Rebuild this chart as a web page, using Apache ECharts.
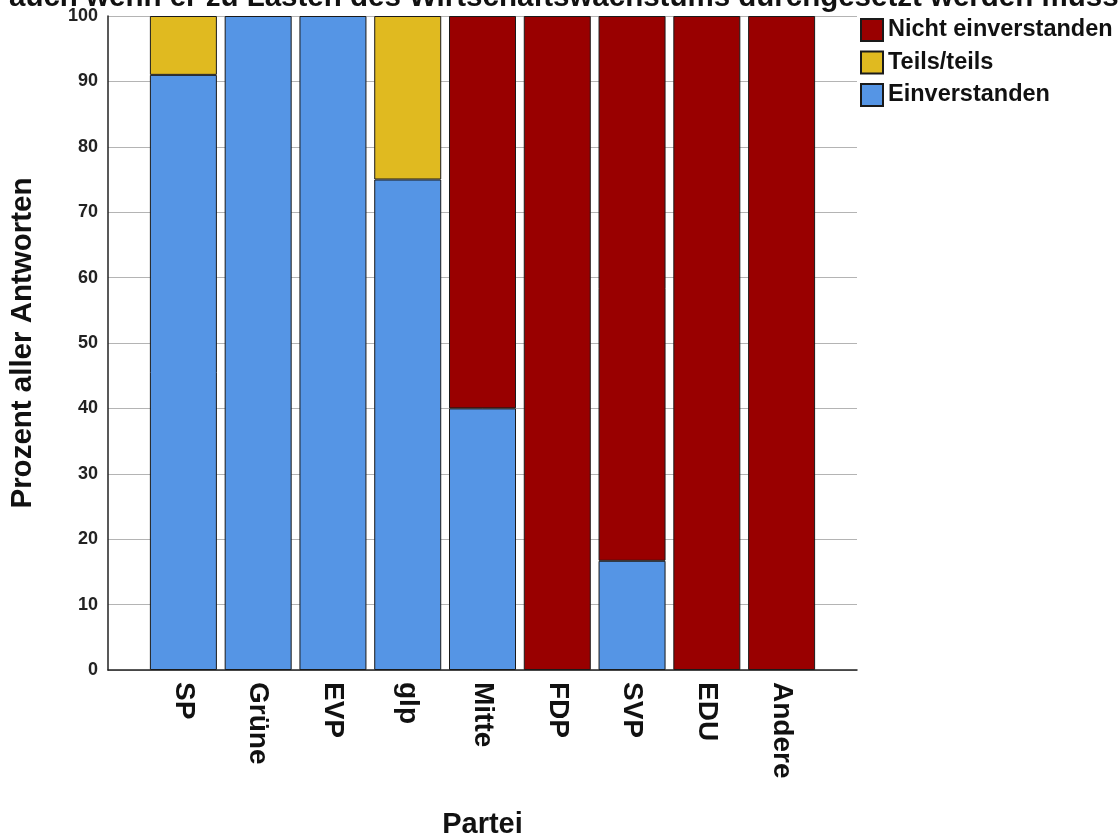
<!DOCTYPE html>
<html>
<head>
<meta charset="utf-8">
<script src="https://cdn.jsdelivr.net/npm/echarts@6/dist/echarts.min.js"></script>
<style>
html,body{margin:0;padding:0;background:#fff;}
#c{width:1119px;height:836px;}
</style>
</head>
<body>
<div id="c"></div>
<script>
const categories = ['SP', 'Grüne', 'EVP', 'glp', 'Mitte', 'FDP', 'SVP', 'EDU', 'Andere'];
const einverstanden = [91, 100, 100, 75, 40, 0, 16.7, 0, 0];
const teilsTeils = [9, 0, 0, 25, 0, 0, 0, 0, 0];
const nichtEinverstanden = [0, 0, 0, 0, 60, 100, 83.3, 100, 100];
const yTicks = [0, 10, 20, 30, 40, 50, 60, 70, 80, 90, 100];

const FONT = '"Liberation Sans", Arial, sans-serif';
const chart = echarts.init(document.getElementById('c'), null, {renderer: 'canvas'});

function nz(arr) { return arr.map(v => v === 0 ? '-' : v); }

const barStyle = (color) => ({color: color, borderColor: '#1a1a1a', borderWidth: 1});

chart.setOption({
  animation: false,
  title: {
    text: 'auch wenn er zu Lasten des Wirtschaftswachstums durchgesetzt werden muss',
    left: 4, top: -22,
    textStyle: {fontFamily: FONT, fontSize: 29.5, fontWeight: 'bold', color: '#111'}
  },
  legend: {
    data: ['Nicht einverstanden', 'Teils/teils', 'Einverstanden'],
    orient: 'vertical', left: 855, top: 13,
    itemWidth: 22, itemHeight: 22, itemGap: 8.5,
    icon: 'rect',
    textStyle: {fontFamily: FONT, fontSize: 23.5, fontWeight: 'bold', color: '#111', padding: [0, 0, 0, 0]}
  },
  grid: [
    {left: 108, right: 262, top: 16, bottom: 166, containLabel: false, outerBoundsMode: 'none'},
    {left: 146, width: 673, top: 16, bottom: 166, containLabel: false, outerBoundsMode: 'none'}
  ],
  xAxis: [
    {
      gridIndex: 0, type: 'value', min: 0, max: 1,
      axisLine: {show: true, onZero: false, lineStyle: {color: '#222', width: 1.5}},
      axisTick: {show: false}, axisLabel: {show: false}, splitLine: {show: false},
      name: 'Partei', nameLocation: 'middle', nameGap: 140,
      nameTextStyle: {fontFamily: FONT, fontSize: 29, fontWeight: 'bold', color: '#111'}
    },
    {
      gridIndex: 1, type: 'category', data: categories,
      axisLine: {show: false}, axisTick: {show: false},
      axisLabel: {rotate: -90, margin: 12, fontFamily: FONT, fontSize: 28, fontWeight: 'bold', color: '#111'}
    }
  ],
  yAxis: [
    {
      gridIndex: 0, type: 'value', min: yTicks[0], max: yTicks[yTicks.length - 1], interval: 10,
      axisLine: {show: true, lineStyle: {color: '#222', width: 1.5}},
      axisTick: {show: false},
      axisLabel: {margin: 10, fontFamily: FONT, fontSize: 18, fontWeight: 'bold', color: '#222'},
      splitLine: {show: true, lineStyle: {color: '#b4b4b4', width: 1}},
      name: 'Prozent aller Antworten', nameLocation: 'middle', nameGap: 70,
      nameTextStyle: {fontFamily: FONT, fontSize: 29.5, fontWeight: 'bold', color: '#111'}
    },
    {
      gridIndex: 1, type: 'value', min: 0, max: 100, show: false
    }
  ],
  series: [
    {name: 'Einverstanden', type: 'bar', stack: 's', xAxisIndex: 1, yAxisIndex: 1, barWidth: 67,
     data: nz(einverstanden), itemStyle: barStyle('#5595e5')},
    {name: 'Teils/teils', type: 'bar', stack: 's', xAxisIndex: 1, yAxisIndex: 1, barWidth: 67,
     data: nz(teilsTeils), itemStyle: barStyle('#e0ba20')},
    {name: 'Nicht einverstanden', type: 'bar', stack: 's', xAxisIndex: 1, yAxisIndex: 1, barWidth: 67,
     data: nz(nichtEinverstanden), itemStyle: barStyle('#990000')}
  ]
});
</script>
</body>
</html>
